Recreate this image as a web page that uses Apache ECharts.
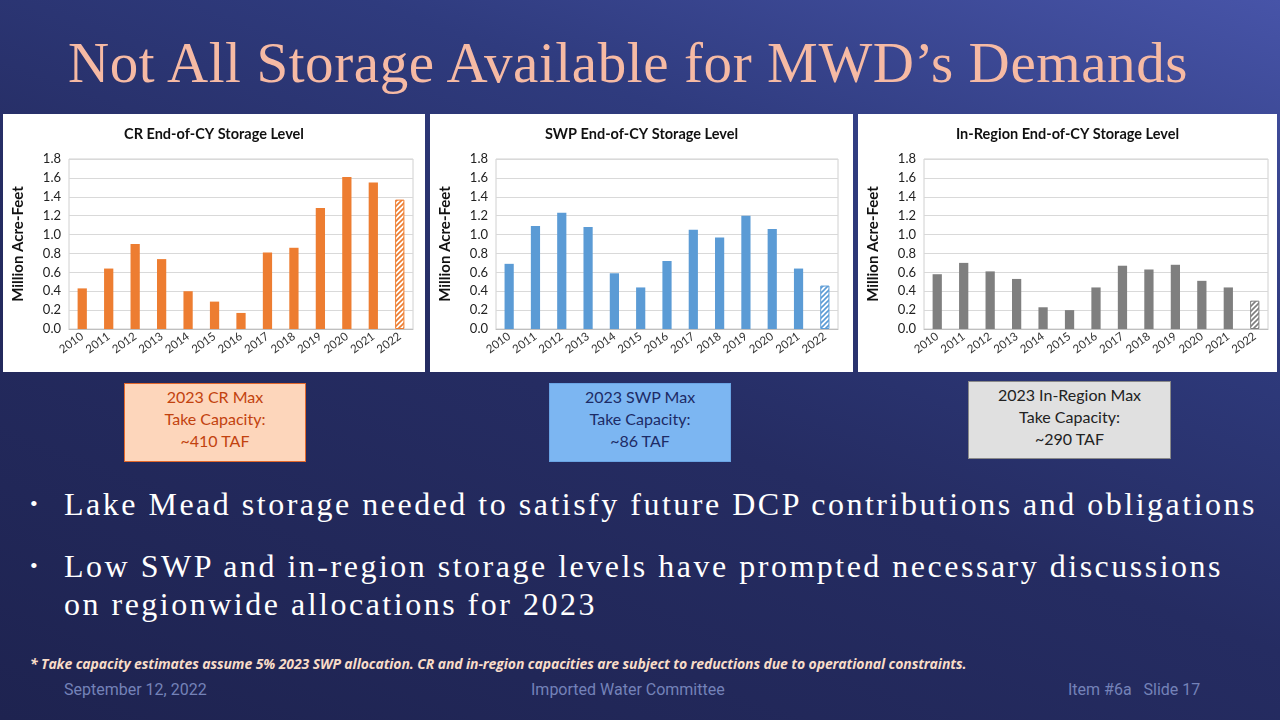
<!DOCTYPE html>
<html>
<head>
<meta charset="utf-8">
<script src="https://cdn.jsdelivr.net/npm/echarts@6/dist/echarts.min.js"></script>
<style>
  html, body { margin: 0; padding: 0; }
  body {
    width: 1280px; height: 720px; overflow: hidden; position: relative;
    background: linear-gradient(200deg, #4754a8 0%, #2f3b7e 28%, #252c62 55%, #1e2350 100%);
    font-family: Lato, sans-serif;
  }
  .title {
    position: absolute; left: 0; width: 1256px; top: 30px; text-align: center;
    font-family: "Liberation Serif", serif; font-size: 57px; color: #f6baa4;
    letter-spacing: 0.6px; white-space: nowrap;
  }
  .panel { position: absolute; top: 114px; height: 258px; background: #fff; }
  .box {
    position: absolute; text-align: center; font-family: Lato, sans-serif;
    font-size: 16px; line-height: 22px; box-sizing: border-box; padding-top: 2px;
  }
  .bullets {
    position: absolute; left: 30px; top: 485px; width: 1240px;
    font-family: "Liberation Serif", serif; font-size: 32px; color: #fff;
    letter-spacing: 2.5px;
  }
  .bullets div { position: relative; padding-left: 34px; line-height: 38px; margin-bottom: 24px; }
  .bullets div::before { content: "\2022"; position: absolute; left: 0; font-size: 22px; }
  .foot {
    position: absolute; left: 30px; top: 654px; font-family: "Open Sans", sans-serif;
    font-style: italic; font-weight: bold; font-size: 14px; color: #f8dcc8; letter-spacing: -0.1px;
    white-space: nowrap;
  }
  .footer { position: absolute; top: 680px; font-family: Roboto, sans-serif; font-size: 16px; color: #7482b8; }
</style>
</head>
<body>
<div class="title">Not All Storage Available for MWD’s Demands</div>

<div class="panel" id="cr" style="left:3px;width:422px"></div>
<div class="panel" id="swp" style="left:430px;width:423px"></div>
<div class="panel" id="region" style="left:858px;width:419px"></div>

<div class="box" style="left:124px;top:383px;width:182px;height:79px;background:#fdd6bb;border:1.5px solid #e2682c;color:#c2420e;">2023 CR Max<br>Take Capacity:<br>~410 TAF</div>
<div class="box" style="left:549px;top:383px;width:182px;height:79px;background:#7cb6f2;border:1.5px solid #6aa4e4;color:#1c2b66;">2023 SWP Max<br>Take Capacity:<br>~86 TAF</div>
<div class="box" style="left:968px;top:381px;width:203px;height:78px;background:#e0e0e0;border:1.5px solid #8a8a8a;color:#222;">2023 In-Region Max<br>Take Capacity:<br>~290 TAF</div>

<div class="bullets">
  <div>Lake Mead storage needed to satisfy future DCP contributions and obligations</div>
  <div>Low SWP and in-region storage levels have prompted necessary discussions on regionwide allocations for 2023</div>
</div>

<div class="foot">* Take capacity estimates assume 5% 2023 SWP allocation. CR and in-region capacities are subject to reductions due to operational constraints.</div>
<div class="footer" style="left:64px">September 12, 2022</div>
<div class="footer" style="left:531px">Imported Water Committee</div>
<div class="footer" style="left:1068px">Item #6a &nbsp; Slide 17</div>

<script>
// data (million acre-feet, end of calendar year)
const years = ['2010', '2011', '2012', '2013', '2014', '2015', '2016', '2017', '2018', '2019', '2020', '2021', '2022'];
const crValues = [0.43, 0.64, 0.90, 0.74, 0.40, 0.29, 0.17, 0.81, 0.86, 1.28, 1.61, 1.55, 1.37];
const swpValues = [0.69, 1.09, 1.23, 1.08, 0.59, 0.44, 0.72, 1.05, 0.97, 1.20, 1.06, 0.64, 0.46];
const regionValues = [0.58, 0.70, 0.61, 0.53, 0.23, 0.20, 0.44, 0.67, 0.63, 0.68, 0.51, 0.44, 0.30];
const estimateYear = '2022';

// diagonal hatch for the estimated year
function hatch(color) {
    const c = document.createElement('canvas');
    c.width = 5; c.height = 5;
    const ctx = c.getContext('2d');
    ctx.fillStyle = '#fff';
    ctx.fillRect(0, 0, 5, 5);
    ctx.strokeStyle = color;
    ctx.lineWidth = 1.6;
    ctx.beginPath();
    ctx.moveTo(-1, 6); ctx.lineTo(6, -1);
    ctx.moveTo(-1, 1); ctx.lineTo(1, -1);
    ctx.moveTo(4, 6); ctx.lineTo(6, 4);
    ctx.stroke();
    return c;
}

function makeChart(id, title, values, color, gridLeft, gridRight) {
    const chart = echarts.init(document.getElementById(id));
    const data = values.map((v, i) => {
        if (years[i] === estimateYear) {
            return { value: v, itemStyle: { color: { image: hatch(color), repeat: 'repeat' }, borderColor: color, borderWidth: 1 } };
        }
        return v;
    });
    chart.setOption({
        animation: false,
        title: {
            text: title, left: 'center', top: 8,
            textStyle: { fontFamily: 'Lato', fontWeight: 'bold', fontSize: 14.5, color: '#111' }
        },
        grid: { left: gridLeft, right: gridRight, top: 45, bottom: 43, show: true, borderColor: '#d0d0d0', borderWidth: 1 },
        xAxis: {
            type: 'category', data: years,
            axisLine: { lineStyle: { color: '#bfbfbf' } },
            axisTick: { show: false },
            axisLabel: { interval: 0, hideOverlap: false, rotate: 36, fontFamily: 'Lato', fontSize: 11.5, color: '#333', margin: 6 }
        },
        yAxis: {
            type: 'value', min: 0, max: 1.8, interval: 0.2,
            name: 'Million Acre-Feet', nameLocation: 'middle', nameRotate: 90, nameGap: 43,
            nameTextStyle: { fontFamily: 'Lato', fontWeight: 'bold', fontSize: 15, color: '#111' },
            axisLine: { show: false }, axisTick: { show: false },
            axisLabel: { formatter: v => v.toFixed(1), fontFamily: 'Lato', fontSize: 13, color: '#222', margin: 8 },
            splitLine: { lineStyle: { color: '#d9d9d9' } }
        },
        series: [{ type: 'bar', data: data, barWidth: '35%', itemStyle: { color: color } }]
    });
}

makeChart('cr', 'CR End-of-CY Storage Level', crValues, '#ed7d31', 65, 12);
makeChart('swp', 'SWP End-of-CY Storage Level', swpValues, '#5b9bd5', 66, 15);
makeChart('region', 'In-Region End-of-CY Storage Level', regionValues, '#7f7f7f', 65, 9);
</script>
</body>
</html>
